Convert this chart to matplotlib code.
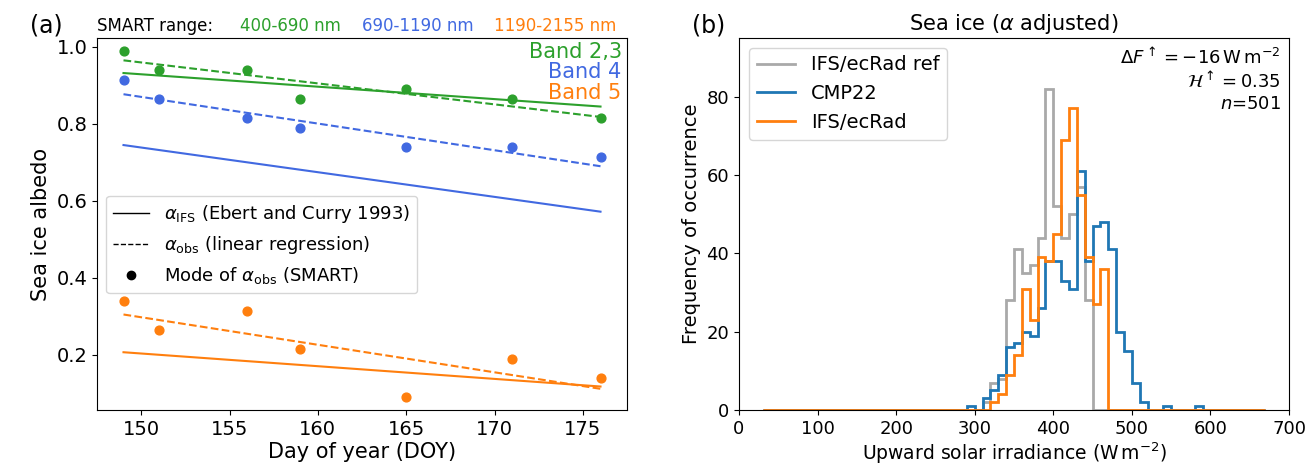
import matplotlib.pyplot as plt
import numpy as np

doy = [149, 151, 156, 159, 165, 171, 176]
obs_green = [0.99, 0.94, 0.94, 0.865, 0.89, 0.865, 0.815]
obs_blue = [0.915, 0.865, 0.815, 0.79, 0.74, 0.74, 0.715]
obs_orange = [0.34, 0.265, 0.315, 0.215, 0.09, 0.19, 0.14]
# end points (DOY 149, 176)
ifs_green = [0.932, 0.845]
ifs_blue = [0.745, 0.572]
ifs_orange = [0.207, 0.118]
reg_green = [0.965, 0.818]
reg_blue = [0.877, 0.69]
reg_orange = [0.305, 0.112]

edges = np.arange(30, 680, 10)
ref_counts = {310: 2, 320: 7, 330: 8, 340: 28, 350: 41, 360: 35, 370: 37, 380: 44,
              390: 82, 400: 52, 410: 44, 420: 50, 430: 57, 440: 28}
cmp_counts = {290: 1, 310: 3, 320: 5, 330: 9, 340: 16, 350: 17, 360: 20, 370: 19,
              380: 26, 390: 38, 400: 38, 410: 33, 420: 31, 430: 61, 440: 38, 450: 47,
              460: 48, 470: 41, 480: 20, 490: 15, 500: 7, 510: 2, 540: 1, 580: 1}
ifs_counts = {320: 2, 330: 4, 340: 9, 350: 14, 360: 31, 370: 23, 380: 39, 390: 38,
              400: 45, 410: 69, 420: 77, 430: 55, 440: 39, 450: 27, 460: 36}


def counts(d):
    return [d.get(e, 0) for e in edges[:-1]]


green, blue, orange = 'tab:green', 'royalblue', 'tab:orange'
plt.rcParams['font.size'] = 13
fig = plt.figure(figsize=(13.06, 4.66), dpi=100)
ax1 = fig.add_axes([97/1306, 56/466, 530/1306, 372/466])
ax2 = fig.add_axes([739/1306, 56/466, 550/1306, 372/466])

x2 = [doy[0], doy[-1]]
for c, o, i, r in [(green, obs_green, ifs_green, reg_green),
                   (blue, obs_blue, ifs_blue, reg_blue),
                   (orange, obs_orange, ifs_orange, reg_orange)]:
    ax1.scatter(doy, o, color=c, s=40, zorder=3)
    ax1.plot(x2, i, color=c, lw=1.5)
    ax1.plot(x2, r, color=c, lw=1.5, ls='--')
ax1.plot([], [], 'k-', lw=1, label=r'$\alpha_{\rm IFS}$ (Ebert and Curry 1993)')
ax1.plot([], [], 'k--', lw=1, label=r'$\alpha_{\rm obs}$ (linear regression)')
ax1.plot([], [], 'ko', ls='none', label=r'Mode of $\alpha_{\rm obs}$ (SMART)')
ax1.legend(loc='center left', bbox_to_anchor=(0.0, 0.445), fontsize=13, frameon=True)
ax1.set_ylim(0.057, 1.023)
ax1.set_xlim(147.5, 177.5)
ax1.set_yticks([0.2, 0.4, 0.6, 0.8, 1.0])
ax1.set_xlabel('Day of year (DOY)', fontsize=15, labelpad=2)
ax1.set_ylabel('Sea ice albedo', fontsize=15)
ax1.tick_params(labelsize=14)
ax1.text(0.99, 0.99, 'Band 2,3', color=green, ha='right', va='top', transform=ax1.transAxes, fontsize=15)
ax1.text(0.99, 0.935, 'Band 4', color=blue, ha='right', va='top', transform=ax1.transAxes, fontsize=15)
ax1.text(0.99, 0.88, 'Band 5', color=orange, ha='right', va='top', transform=ax1.transAxes, fontsize=15)
ax1.text(0.0, 1.02, 'SMART range:', transform=ax1.transAxes, fontsize=12)
ax1.text(0.27, 1.02, '400-690 nm', color=green, transform=ax1.transAxes, fontsize=12)
ax1.text(0.5, 1.02, '690-1190 nm', color=blue, transform=ax1.transAxes, fontsize=12)
ax1.text(0.75, 1.02, '1190-2155 nm', color=orange, transform=ax1.transAxes, fontsize=12)
fig.text(30/1306, 0.93, '(a)', fontsize=17)

ax2.stairs(counts(ref_counts), edges, color='darkgray', lw=2, label='IFS/ecRad ref')
ax2.stairs(counts(cmp_counts), edges, color='tab:blue', lw=2, label='CMP22')
ax2.stairs(counts(ifs_counts), edges, color='tab:orange', lw=2, label='IFS/ecRad')
ax2.set_xlim(0, 700)
ax2.set_ylim(0, 95)
ax2.set_xlabel(r'Upward solar irradiance (W$\,$m$^{-2}$)', fontsize=13.5, labelpad=2)
ax2.set_ylabel('Frequency of occurrence', fontsize=14)
ax2.set_title(r'Sea ice ($\alpha$ adjusted)', fontsize=15)
ax2.tick_params(labelsize=13)
ax2.legend(loc='upper left', fontsize=14)
ax2.text(0.985, 0.975, r'$\Delta F^\uparrow=-16\,$W$\,$m$^{-2}$' + '\n' + r'$\mathcal{H}^\uparrow=0.35$' + '\n' + r'$n$=501',
         transform=ax2.transAxes, ha='right', va='top', fontsize=13, linespacing=1.2)
fig.text(692/1306, 0.93, '(b)', fontsize=17)

fig.savefig('out.png', dpi=100)
